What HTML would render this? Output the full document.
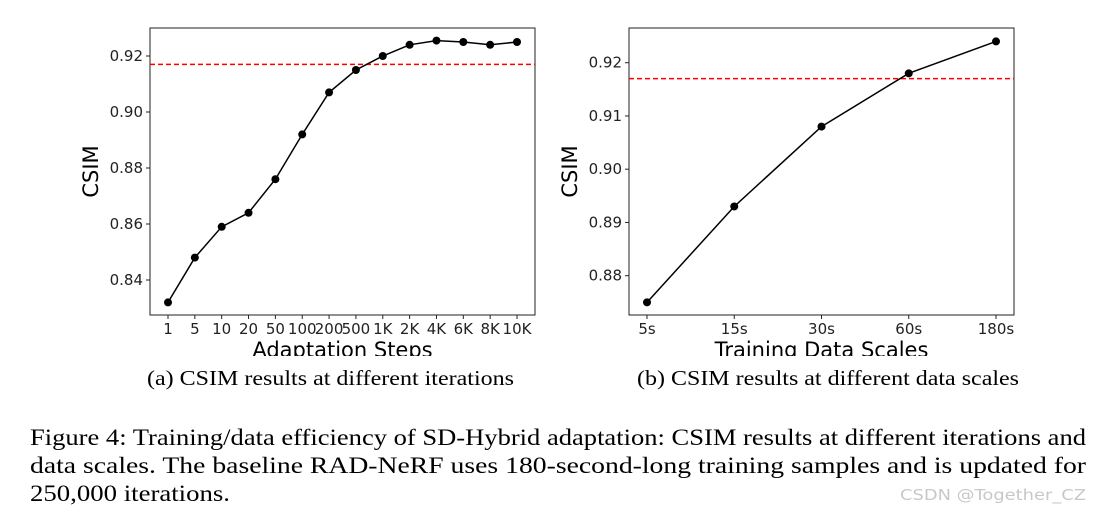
<!DOCTYPE html>
<html><head><meta charset="utf-8"><style>
html,body{margin:0;padding:0;background:#fff;width:1096px;height:512px;overflow:hidden}
svg text{font-family:"DejaVu Sans","Liberation Sans",sans-serif}
</style></head><body>
<svg id="fig" width="1096" height="512" xmlns="http://www.w3.org/2000/svg">
<defs><clipPath id="clipA"><rect x="0" y="0" width="1096" height="356"/></clipPath></defs>
<g id="chartA" clip-path="url(#clipA)"></g>
<g id="chartB" clip-path="url(#clipA)"></g>
<text style="font-family:'Liberation Serif','Times New Roman',serif" x="147" y="385" font-size="21" textLength="367" lengthAdjust="spacingAndGlyphs">(a) CSIM results at different iterations</text>
<text style="font-family:'Liberation Serif','Times New Roman',serif" x="637" y="385" font-size="21" textLength="382" lengthAdjust="spacingAndGlyphs">(b) CSIM results at different data scales</text>
<text style="font-family:'Liberation Serif','Times New Roman',serif" x="30" y="445" font-size="23" textLength="1056" lengthAdjust="spacingAndGlyphs">Figure 4: Training/data efficiency of SD-Hybrid adaptation: CSIM results at different iterations and</text>
<text style="font-family:'Liberation Serif','Times New Roman',serif" x="30" y="473" font-size="23" textLength="1056" lengthAdjust="spacingAndGlyphs">data scales.  The baseline RAD-NeRF uses 180-second-long training samples and is updated for</text>
<text style="font-family:'Liberation Serif','Times New Roman',serif" x="30" y="501" font-size="23" textLength="200" lengthAdjust="spacingAndGlyphs">250,000 iterations.</text>
<text x="900" y="500" font-size="15" fill="#c8c8c8" textLength="186" lengthAdjust="spacingAndGlyphs">CSDN @Together_CZ</text>
</svg>
<script>
const catsA=["1","5","10","20","50","100","200","500","1K","2K","4K","6K","8K","10K"];
const valsA=[0.832,0.848,0.859,0.864,0.876,0.892,0.907,0.915,0.920,0.924,0.9255,0.925,0.924,0.925];
const ticksA=[0.84,0.86,0.88,0.90,0.92];
const baselineA=0.917;
const catsB=["5s","15s","30s","60s","180s"];
const valsB=[0.875,0.893,0.908,0.918,0.924];
const ticksB=[0.88,0.89,0.90,0.91,0.92];
const baselineB=0.917;
const NS="http://www.w3.org/2000/svg";
function mk(p,t,a){const e=document.createElementNS(NS,t);for(const k in a)e.setAttribute(k,a[k]);p.appendChild(e);return e;}
function draw(g,cfg){
  const {L,R,T,B,x0,x1,yv0,yp0,yv1,yp1,cats,vals,ticks,base,xlabel,fmt}=cfg;
  const sx=i=>x0+(x1-x0)*i/(cats.length-1);
  const sy=v=>yp0+(v-yv0)*(yp1-yp0)/(yv1-yv0);
  const box=mk(g,"rect",{x:L,y:T,width:R-L,height:B-T,fill:"none",stroke:"#222","stroke-width":1});
  
  
  ticks.forEach(t=>{const y=sy(t);
    const tk=mk(g,"line",{x1:L-4,x2:L,y1:y,y2:y,stroke:"#222"});
    
    
    const tl=mk(g,"text",{x:L-7,y:y+5,"font-size":15,"text-anchor":"end",fill:"#222"});tl.textContent=t.toFixed(fmt);
    
    });
  cats.forEach((c,i)=>{const x=sx(i);
    const tk=mk(g,"line",{x1:x,x2:x,y1:B,y2:B+4,stroke:"#222"});
    
    
    const tl=mk(g,"text",{x:x,y:B+19,"font-size":15,"text-anchor":"middle",fill:"#222"});tl.textContent=c;
    
    });
  const bl=mk(g,"line",{x1:L,x2:R,y1:sy(base),y2:sy(base),stroke:"#f00","stroke-width":1.5,"stroke-dasharray":"5,3"});
  
  
  const pl=mk(g,"polyline",{points:vals.map((v,i)=>sx(i)+","+sy(v)).join(" "),fill:"none",stroke:"#000","stroke-width":1.5});
  
  
  vals.forEach((v,i)=>{const c=mk(g,"circle",{cx:sx(i),cy:sy(v),r:4,fill:"#000"});
    
    });
  const yl=mk(g,"text",{x:0,y:0,"font-size":21,"text-anchor":"middle",fill:"#000",transform:`translate(${L-52},${(T+B)/2}) rotate(-90)`});yl.textContent="CSIM";
  
  
  const xl=mk(g,"text",{x:(L+R)/2,y:B+42,"font-size":21,"text-anchor":"middle",fill:"#000"});xl.textContent=xlabel;
  
  
}
draw(document.getElementById("chartA"),{L:150,R:535,T:28,B:315,x0:168,x1:517,yv0:0.92,yp0:56,yv1:0.84,yp1:280,cats:catsA,vals:valsA,ticks:ticksA,base:baselineA,xlabel:"Adaptation Steps",fmt:2});
draw(document.getElementById("chartB"),{L:629,R:1014,T:28,B:315,x0:647,x1:996,yv0:0.92,yp0:62.7,yv1:0.88,yp1:275.7,cats:catsB,vals:valsB,ticks:ticksB,base:baselineB,xlabel:"Training Data Scales",fmt:2});
</script>
</body></html>
